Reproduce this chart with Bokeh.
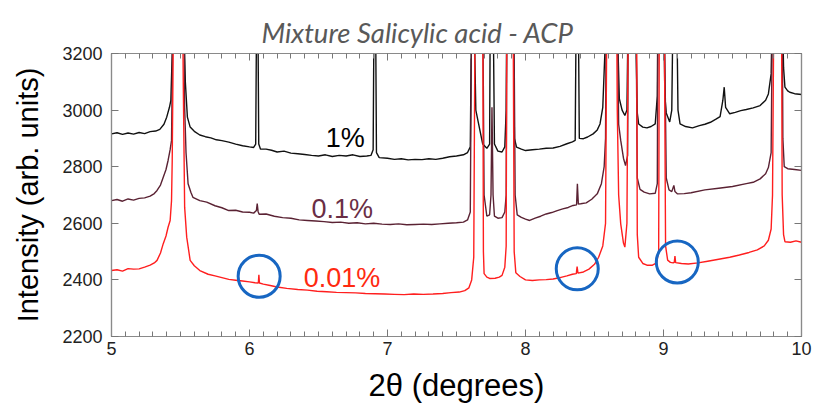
from bokeh.plotting import figure
from bokeh.models import (Range1d, LinearAxis, Label, SingleIntervalTicker,
                          CustomJSTickFormatter)
from bokeh.embed import file_html
from bokeh.resources import INLINE

# ---------------- data ----------------
# 2theta (degrees), intensity (arb. units); peaks beyond 3200 are clipped
trace_1pct = [
    (5.00, 2916), (5.04, 2920), (5.08, 2914), (5.12, 2919), (5.16, 2915), (5.20, 2921),
    (5.24, 2917), (5.28, 2924), (5.32, 2926), (5.35, 2932), (5.38, 2950), (5.40, 2975),
    (5.42, 3010), (5.43, 3034), (5.44, 3200), (5.45, 3400), (5.52, 3400), (5.535, 3100),
    (5.55, 2975), (5.57, 2940), (5.60, 2925), (5.64, 2912), (5.68, 2906), (5.72, 2902),
    (5.76, 2895), (5.80, 2892), (5.85, 2887), (5.90, 2880), (5.95, 2874), (6.00, 2870),
    (6.03, 2868), (6.045, 2880), (6.052, 3400), (6.06, 3400), (6.067, 2880), (6.08, 2862),
    (6.12, 2862), (6.16, 2858), (6.20, 2852), (6.25, 2855), (6.30, 2848), (6.35, 2846),
    (6.40, 2843), (6.45, 2840), (6.50, 2838), (6.55, 2842), (6.60, 2836), (6.65, 2840),
    (6.70, 2838), (6.75, 2842), (6.80, 2836), (6.85, 2838), (6.88, 2840), (6.896, 2860),
    (6.903, 3400), (6.913, 3400), (6.92, 2850), (6.94, 2832), (7.00, 2830), (7.05, 2826),
    (7.10, 2828), (7.15, 2824), (7.20, 2826), (7.25, 2825), (7.30, 2828), (7.35, 2826),
    (7.40, 2830), (7.45, 2835), (7.50, 2838), (7.55, 2842), (7.58, 2850), (7.60, 2870),
    (7.61, 3400), (7.625, 3400), (7.64, 3000), (7.69, 2880), (7.72, 2865), (7.74, 2880),
    (7.745, 3400), (7.765, 3400), (7.775, 2880), (7.80, 2855), (7.83, 2852), (7.85, 2870),
    (7.86, 3000), (7.865, 3400), (7.91, 3400), (7.92, 2900), (7.935, 2869), (7.97, 2862),
    (8.00, 2857), (8.05, 2860), (8.10, 2862), (8.15, 2865), (8.20, 2866), (8.25, 2872),
    (8.30, 2881), (8.34, 2888), (8.36, 2893), (8.368, 3400), (8.382, 3400), (8.39, 2900),
    (8.42, 2899), (8.45, 2905), (8.49, 2916), (8.52, 2930), (8.54, 2951), (8.56, 3010),
    (8.575, 3200), (8.58, 3400), (8.66, 3400), (8.68, 3040), (8.70, 3000), (8.72, 2981),
    (8.735, 3000), (8.745, 3400), (8.795, 3400), (8.81, 2990), (8.82, 2951), (8.85, 2940),
    (8.88, 2937), (8.91, 2942), (8.94, 2951), (8.955, 3050), (8.96, 3400), (9.00, 3400),
    (9.01, 3050), (9.02, 2990), (9.045, 2958), (9.06, 3000), (9.07, 3400), (9.095, 3400),
    (9.105, 3000), (9.12, 2951), (9.16, 2942), (9.21, 2937), (9.26, 2945), (9.30, 2950),
    (9.34, 2957), (9.38, 2968), (9.41, 2977), (9.43, 3034), (9.44, 3081), (9.45, 3010),
    (9.48, 2987), (9.52, 2992), (9.56, 2998), (9.60, 3002), (9.65, 3008), (9.70, 3016),
    (9.74, 3035), (9.76, 3057), (9.78, 3128), (9.79, 3400), (9.86, 3400), (9.87, 3150),
    (9.88, 3081), (9.90, 3068), (9.915, 3063), (9.95, 3058), (10.00, 3055),
]

trace_01pct = [
    (5.00, 2680), (5.04, 2684), (5.08, 2678), (5.12, 2686), (5.16, 2682), (5.20, 2688),
    (5.24, 2690), (5.28, 2696), (5.31, 2705), (5.33, 2716), (5.355, 2735), (5.375, 2763),
    (5.395, 2790), (5.41, 2822), (5.425, 2860), (5.435, 2893), (5.44, 3100), (5.445, 3400),
    (5.525, 3400), (5.53, 3010), (5.54, 2850), (5.555, 2740), (5.575, 2710), (5.59, 2692),
    (5.64, 2680), (5.69, 2675), (5.75, 2662), (5.80, 2655), (5.85, 2645), (5.90, 2646),
    (5.95, 2640), (6.00, 2639), (6.03, 2636), (6.05, 2645), (6.056, 2670), (6.062, 2642),
    (6.07, 2632), (6.12, 2633), (6.18, 2625), (6.24, 2620), (6.30, 2618), (6.36, 2612),
    (6.42, 2610), (6.48, 2608), (6.54, 2606), (6.60, 2603), (6.66, 2604), (6.72, 2600),
    (6.78, 2602), (6.84, 2598), (6.90, 2600), (6.96, 2597), (7.02, 2596), (7.08, 2598),
    (7.14, 2595), (7.20, 2596), (7.26, 2597), (7.32, 2596), (7.38, 2598), (7.44, 2600),
    (7.50, 2602), (7.55, 2604), (7.58, 2612), (7.60, 2640), (7.61, 3400), (7.69, 3400),
    (7.70, 2700), (7.72, 2625), (7.74, 2630), (7.75, 2700), (7.757, 3010), (7.765, 2700),
    (7.775, 2625), (7.80, 2618), (7.83, 2620), (7.85, 2640), (7.86, 2700), (7.865, 3400),
    (7.915, 3400), (7.925, 2700), (7.94, 2630), (7.97, 2621), (8.00, 2615), (8.03, 2610),
    (8.07, 2618), (8.11, 2625), (8.15, 2633), (8.19, 2638), (8.23, 2645), (8.27, 2651),
    (8.31, 2656), (8.345, 2663), (8.37, 2665), (8.376, 2740), (8.383, 2668), (8.40, 2669),
    (8.44, 2672), (8.48, 2685), (8.52, 2704), (8.55, 2740), (8.57, 2800), (8.58, 2900),
    (8.585, 3400), (8.665, 3400), (8.675, 2950), (8.69, 2893), (8.71, 2830), (8.725, 2804),
    (8.74, 2840), (8.745, 3400), (8.80, 3400), (8.81, 2760), (8.83, 2720), (8.86, 2710),
    (8.90, 2704), (8.94, 2706), (8.955, 2740), (8.96, 3400), (9.005, 3400), (9.02, 2760),
    (9.04, 2718), (9.06, 2712), (9.075, 2734), (9.083, 2712), (9.10, 2704), (9.15, 2705),
    (9.20, 2708), (9.30, 2718), (9.40, 2724), (9.50, 2730), (9.60, 2740), (9.65, 2745),
    (9.70, 2757), (9.74, 2775), (9.76, 2797), (9.78, 2850), (9.79, 3400), (9.86, 3400),
    (9.865, 2900), (9.875, 2800), (9.90, 2793), (9.95, 2790), (10.00, 2787),
]

trace_001pct = [
    (5.00, 2433), (5.04, 2436), (5.08, 2431), (5.12, 2440), (5.16, 2438), (5.20, 2439),
    (5.24, 2445), (5.28, 2452), (5.31, 2460), (5.33, 2469), (5.355, 2495), (5.375, 2528),
    (5.395, 2555), (5.41, 2586), (5.425, 2610), (5.435, 2680), (5.44, 2822), (5.445, 3100),
    (5.45, 3400), (5.515, 3400), (5.52, 3100), (5.53, 2657), (5.545, 2551), (5.57, 2469),
    (5.60, 2450), (5.64, 2433), (5.70, 2420), (5.75, 2414), (5.80, 2408), (5.85, 2402),
    (5.90, 2399), (5.95, 2396), (6.00, 2393), (6.04, 2390), (6.064, 2389), (6.068, 2418),
    (6.072, 2389), (6.10, 2385), (6.15, 2380), (6.20, 2375), (6.27, 2370), (6.35, 2366),
    (6.42, 2364), (6.49, 2360), (6.56, 2358), (6.63, 2356), (6.70, 2355), (6.77, 2354),
    (6.84, 2352), (6.91, 2351), (6.98, 2350), (7.05, 2349), (7.12, 2348), (7.19, 2350),
    (7.26, 2349), (7.33, 2350), (7.40, 2352), (7.46, 2355), (7.52, 2357), (7.56, 2362),
    (7.59, 2372), (7.61, 2400), (7.625, 2480), (7.635, 3400), (7.69, 3400), (7.695, 2500),
    (7.70, 2422), (7.72, 2410), (7.74, 2405), (7.78, 2406), (7.81, 2410), (7.83, 2416),
    (7.85, 2445), (7.86, 2520), (7.865, 3400), (7.91, 3400), (7.918, 2500), (7.93, 2425),
    (7.96, 2412), (8.00, 2400), (8.05, 2398), (8.10, 2400), (8.15, 2401), (8.20, 2403),
    (8.25, 2408), (8.30, 2414), (8.34, 2420), (8.368, 2422), (8.374, 2447), (8.38, 2424),
    (8.42, 2428), (8.46, 2438), (8.50, 2455), (8.53, 2480), (8.56, 2520), (8.58, 2600),
    (8.59, 3400), (8.66, 3400), (8.665, 3000), (8.675, 2700), (8.69, 2598), (8.71, 2530),
    (8.72, 2516), (8.735, 2600), (8.745, 3400), (8.805, 3400), (8.81, 2560), (8.82, 2480),
    (8.85, 2458), (8.88, 2452), (8.92, 2452), (8.95, 2460), (8.965, 2500), (8.97, 3400),
    (9.005, 3400), (9.015, 2520), (9.03, 2470), (9.05, 2462), (9.07, 2460), (9.078, 2462),
    (9.083, 2484), (9.088, 2461), (9.13, 2458), (9.18, 2456), (9.25, 2460), (9.32, 2466),
    (9.40, 2473), (9.48, 2480), (9.55, 2488), (9.62, 2497), (9.68, 2506), (9.73, 2520),
    (9.76, 2540), (9.78, 2580), (9.79, 2700), (9.80, 3400), (9.855, 3400), (9.86, 2700),
    (9.87, 2560), (9.88, 2535), (9.92, 2533), (9.96, 2538), (10.00, 2533),
]

# highlighted weak peaks in the 0.01 % pattern
circle_x = [6.07, 8.375, 9.10]
circle_y = [2413, 2439, 2463]

series_names = ["1%", "0.1%", "0.01%"]
line_colors = ["#111111", "#5a2233", "#ff1e1e"]
label_colors = ["#000000", "#6a2e45", "#ff2a10"]
label_x = [6.553, 6.449, 6.393]
label_y = [2903, 2652, 2405]

title_text = "Mixture Salicylic acid - ACP"
x_title = "2θ (degrees)"
y_title = "Intensity (arb. units)"
x_ticks_interval = 1
y_ticks_interval = 200

# ---------------- figure ----------------
p = figure(width=813, height=409, x_range=Range1d(5, 10), y_range=Range1d(2200, 3200),
           output_backend="svg", toolbar_location=None,
           min_border_left=111, min_border_right=12, min_border_top=53, min_border_bottom=73)
p.background_fill_color = "white"
p.border_fill_color = "white"
p.xgrid.visible = False
p.ygrid.visible = False
p.outline_line_color = "#8a8a8a"
p.outline_line_width = 1.2

p.title.text = title_text
p.title.align = "left"
p.title.offset = 150
p.title.text_font = "Lato"
p.title.text_font_style = "italic"
p.title.text_font_size = "27.5px"
p.title.text_color = "#595959"
p.title.standoff = 10

for pts, col in zip([trace_1pct, trace_01pct, trace_001pct], line_colors):
    xs = [a for a, b in pts]
    ys = [b for a, b in pts]
    p.line(xs, ys, line_color=col, line_width=1.4)

p.scatter(circle_x, circle_y, marker="circle", size=42, fill_color=None,
          line_color="#1766c2", line_width=3)

for name, col, lx, ly in zip(series_names, label_colors, label_x, label_y):
    p.add_layout(Label(x=lx, y=ly, text=name, text_color=col, text_font="Liberation Sans",
                       text_font_size="27px", text_align="left", text_baseline="alphabetic"))

def style_axis(ax, labels=True):
    ax.axis_line_color = "#8a8a8a"
    ax.axis_line_width = 1.2
    ax.major_tick_line_color = "#777777"
    ax.minor_tick_line_color = "#777777"
    ax.major_tick_in = 7
    ax.major_tick_out = 0
    ax.minor_tick_in = 5
    ax.minor_tick_out = 0
    ax.major_label_text_font = "Liberation Sans"
    ax.major_label_text_font_size = "18px"
    ax.major_label_text_color = "#222222"
    ax.axis_label_text_font = "Liberation Sans"
    ax.axis_label_text_font_style = "normal"
    ax.axis_label_text_color = "#000000"
    if not labels:
        ax.formatter = CustomJSTickFormatter(code="return ''")

xb = p.xaxis[0]
xb.ticker = SingleIntervalTicker(interval=x_ticks_interval, num_minor_ticks=10)
style_axis(xb)
xb.major_label_standoff = 5
xb.axis_label = x_title
xb.axis_label_text_font_size = "31px"
xb.axis_label_standoff = 10

yl = p.yaxis[0]
yl.ticker = SingleIntervalTicker(interval=y_ticks_interval, num_minor_ticks=0)
style_axis(yl)
yl.major_label_standoff = 9
yl.axis_label = y_title
yl.axis_label_text_font_size = "29px"
yl.axis_label_standoff = 15

xt = LinearAxis(ticker=SingleIntervalTicker(interval=x_ticks_interval, num_minor_ticks=10))
style_axis(xt, labels=False)
p.add_layout(xt, "above")
yr = LinearAxis(ticker=SingleIntervalTicker(interval=y_ticks_interval, num_minor_ticks=0))
style_axis(yr, labels=False)
p.add_layout(yr, "right")

open("out.html", "w").write(file_html(p, INLINE))
